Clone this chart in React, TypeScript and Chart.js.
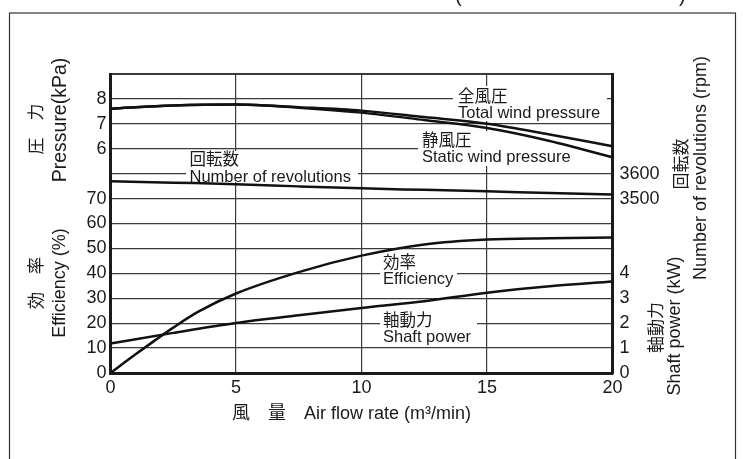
import React, { useEffect, useRef } from 'react';
import { Chart, registerables } from 'chart.js';

Chart.register(...registerables);

// ---- data ----
const flowRates = [0, 2.5, 5, 7.5, 10, 12.5, 15, 17.5, 20];
const totalPressure = [7.61, 7.74, 7.78, 7.67, 7.53, 7.27, 7.0, 6.57, 6.1];
const staticPressure = [7.61, 7.74, 7.78, 7.65, 7.45, 7.15, 6.83, 6.31, 5.66];
const revolutions = [3570, 3564, 3558, 3549, 3541, 3535, 3529, 3522, 3516];
const shaftPower = [1.18, 1.61, 2.01, 2.32, 2.61, 2.88, 3.22, 3.48, 3.67];
const effFlowRates = [0, 1, 2.5, 3.5, 5, 7.5, 10, 12.5, 15, 17.5, 20];
const efficiency = [0, 7.5, 18.2, 24.6, 31.9, 40.5, 47.1, 51.6, 53.6, 54.1, 54.4];

const xTickLabels = ['0', '5', '10', '15', '20'];
const leftTickLabels = ['0', '10', '20', '30', '40', '50', '60', '70', '', '6', '7', '8', ''];
const rightTickLabels = ['0', '1', '2', '3', '4', '', '', '3500', '3600', '', '', '', ''];

// conversion of each quantity to the shared grid band (0..12)
const pressureToBand = (p: number) => p + 3;
const efficiencyToBand = (e: number) => e / 10;
const powerToBand = (kw: number) => kw;
const rpmToBand = (r: number) => 7 + (r - 3500) / 100;

// ---- styling / layout ----
const EN = '"Liberation Sans", Arial, Helvetica, sans-serif';
const JP = '"Noto Sans CJK JP", "Noto Sans CJK SC", sans-serif';
const MIX = '"Liberation Sans", Arial, "Noto Sans CJK JP", sans-serif';
const INK = '#1a1a1a';
const GRID = '#3a3a3a';

const curveLabels = [
  { jp: '全風圧', en: 'Total wind pressure', x: 458, jpY: 101.5, enY: 117.5, box: [453, 86, 607, 121] },
  { jp: '静風圧', en: 'Static wind pressure', x: 422, jpY: 146, enY: 161.5, box: [418, 131, 611, 166] },
  { jp: '回転数', en: 'Number of revolutions', x: 189.5, jpY: 164.5, enY: 181.5, box: [186, 151, 358, 182] },
  { jp: '効率', en: 'Efficiency', x: 383, jpY: 267.5, enY: 284, box: [380, 252, 457, 291] },
  { jp: '軸動力', en: 'Shaft power', x: 383, jpY: 325.5, enY: 341.7, box: [380, 309, 477, 346] },
];

const verticalTitles = [
  { text: '圧　力', x: 42, y: 129, font: `17px ${JP}` },
  { text: 'Pressure(kPa)', x: 65.5, y: 120, font: `19.5px ${EN}` },
  { text: '効　率', x: 42, y: 283, font: `17.5px ${JP}` },
  { text: 'Efficiency (%)', x: 65, y: 283, font: `18px ${EN}` },
  { text: '回転数', x: 687, y: 164, font: `17px ${JP}` },
  { text: 'Number of revolutions (rpm)', x: 706, y: 168, font: `18px ${EN}` },
  { text: '軸動力', x: 662, y: 327.5, font: `17px ${JP}` },
  { text: 'Shaft power (kW)', x: 680, y: 326, font: `18px ${EN}` },
];

const annotate = {
  id: 'annotate',
  beforeDatasetsDraw(chart: any) {
    const ctx: CanvasRenderingContext2D = chart.ctx;
    ctx.save();
    for (const l of curveLabels) {
      const [x1, y1, x2, y2] = l.box;
      ctx.fillStyle = '#ffffff';
      ctx.fillRect(x1, y1, x2 - x1, y2 - y1);
      ctx.fillStyle = INK;
      ctx.textAlign = 'left';
      ctx.textBaseline = 'alphabetic';
      ctx.font = `16.5px ${JP}`;
      ctx.fillText(l.jp, l.x, l.jpY);
      ctx.font = `16.5px ${EN}`;
      ctx.fillText(l.en, l.x, l.enY);
    }
    ctx.restore();
  },
  afterDraw(chart: any) {
    const ctx: CanvasRenderingContext2D = chart.ctx;
    ctx.save();
    ctx.fillStyle = INK;
    for (const t of verticalTitles) {
      ctx.save();
      ctx.translate(t.x, t.y);
      ctx.rotate(-Math.PI / 2);
      ctx.font = t.font;
      ctx.textAlign = 'center';
      ctx.textBaseline = 'alphabetic';
      ctx.fillText(t.text, 0, 0);
      ctx.restore();
    }
    ctx.font = `18px ${MIX}`;
    ctx.textAlign = 'left';
    ctx.textBaseline = 'alphabetic';
    ctx.fillText('風　量　Air flow rate (m³/min)', 232, 419);
    // bottoms of the cut-off heading
    ctx.font = `20px ${EN}`;
    ctx.fillText('(', 455, 2);
    ctx.fillText(')', 679, 2);
    // outer frame
    ctx.strokeStyle = '#333';
    ctx.lineWidth = 1.2;
    ctx.strokeRect(9.5, 13, 726, 470);
    ctx.restore();
  },
};

export default function App() {
  const ref = useRef<HTMLCanvasElement | null>(null);
  useEffect(() => {
    if (!ref.current) return;
    const line = (xs: number[], ys: number[], conv: (v: number) => number) =>
      xs.map((x, i) => ({ x, y: conv(ys[i]) }));
    const common = {
      borderColor: '#111',
      borderWidth: 2.5,
      pointRadius: 0,
      tension: 0.4,
      cubicInterpolationMode: 'monotone' as const,
      fill: false,
      yAxisID: 'y',
    };
    const chart = new Chart(ref.current, {
      type: 'line',
      data: {
        datasets: [
          { ...common, label: '全風圧', data: line(flowRates, totalPressure, pressureToBand) },
          { ...common, label: '静風圧', data: line(flowRates, staticPressure, pressureToBand) },
          { ...common, label: '回転数', data: line(flowRates, revolutions, rpmToBand) },
          { ...common, label: '効率', data: line(effFlowRates, efficiency, efficiencyToBand) },
          { ...common, label: '軸動力', data: line(flowRates, shaftPower, powerToBand) },
        ],
      },
      plugins: [annotate],
      options: {
        animation: false,
        responsive: true,
        maintainAspectRatio: false,
        layout: { padding: { top: 74, left: 0, right: 0, bottom: 0 } },
        plugins: { legend: { display: false }, tooltip: { enabled: false } },
        scales: {
          x: {
            type: 'linear',
            min: 0,
            max: 20,
            afterFit: (s: any) => {
              s.height = 86;
              s.paddingLeft = 0;
              s.paddingRight = 0;
            },
            ticks: {
              stepSize: 5,
              autoSkip: false,
              maxRotation: 0,
              padding: 4,
              color: INK,
              font: { family: EN, size: 18 },
              callback: (v: any) => xTickLabels[Math.round(Number(v) / 5)] ?? '',
            },
            grid: { color: GRID, lineWidth: 1.2, drawTicks: false },
            border: { display: true, color: INK, width: 3 },
          },
          y: {
            type: 'linear',
            position: 'left',
            min: 0,
            max: 12,
            afterFit: (s: any) => {
              s.width = 110.5;
              s.paddingTop = 0;
              s.paddingBottom = 0;
            },
            ticks: {
              stepSize: 1,
              autoSkip: false,
              padding: 4,
              color: INK,
              font: { family: EN, size: 18 },
              callback: (v: any) => leftTickLabels[Math.round(Number(v))] ?? '',
            },
            grid: {
              color: GRID,
              lineWidth: (c: any) => (c.tick && c.tick.value === 12 ? 2 : 1.2),
              drawTicks: false,
            },
            border: { display: true, color: INK, width: 3 },
          },
          y2: {
            type: 'linear',
            position: 'right',
            min: 0,
            max: 12,
            afterFit: (s: any) => {
              s.width = 130.5;
              s.paddingTop = 0;
              s.paddingBottom = 0;
            },
            ticks: {
              stepSize: 1,
              autoSkip: false,
              padding: 7,
              color: INK,
              font: { family: EN, size: 18 },
              callback: (v: any) => rightTickLabels[Math.round(Number(v))] ?? '',
            },
            grid: { drawOnChartArea: false, drawTicks: false },
            border: { display: true, color: INK, width: 3 },
          },
        },
      },
    });
    return () => chart.destroy();
  }, []);
  return (
    <div style={{ position: 'absolute', left: 0, top: 0, width: 743, height: 459, background: '#fff' }}>
      <canvas ref={ref} />
    </div>
  );
}
